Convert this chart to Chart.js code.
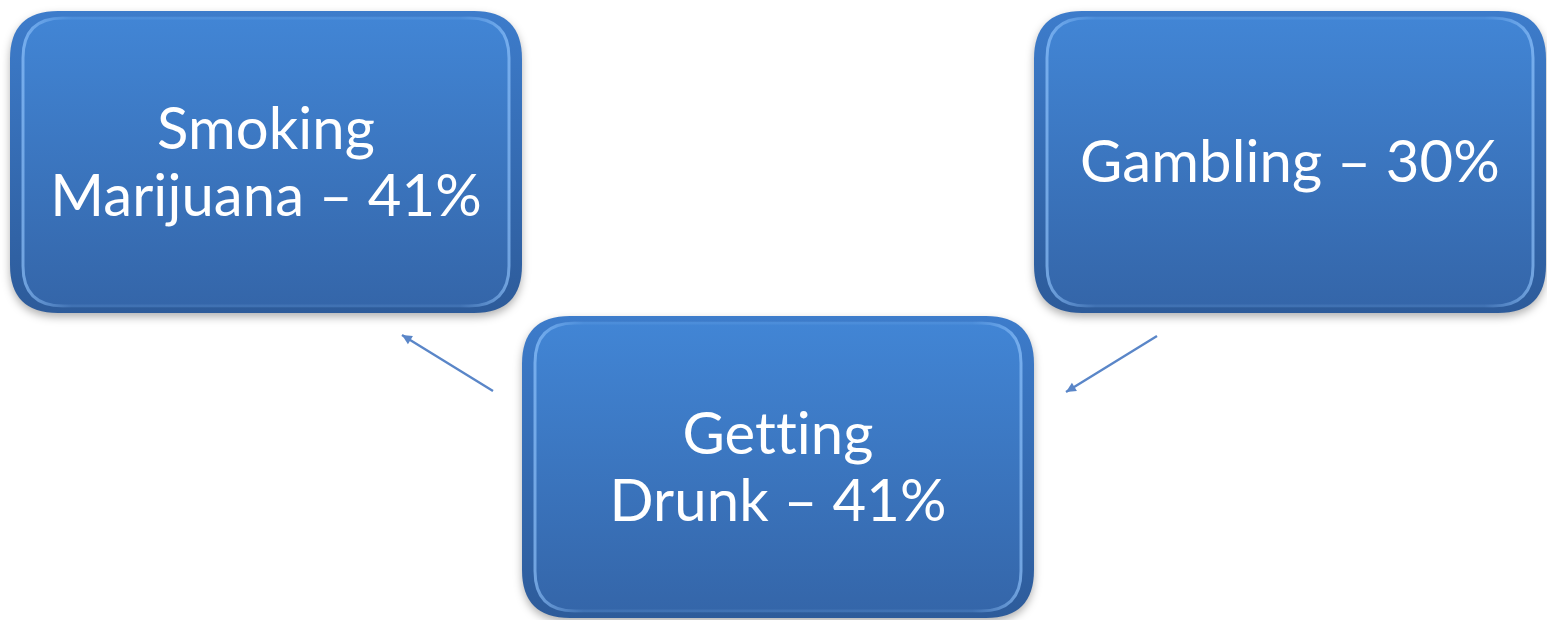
<!DOCTYPE html>
<html>
<head>
<meta charset="utf-8">
<script src="https://cdn.jsdelivr.net/npm/chart.js@4.4.1/dist/chart.umd.min.js"></script>
<style>
  html, body { margin: 0; padding: 0; background: #ffffff; }
  #wrap { width: 1547px; height: 620px; position: relative; }
</style>
</head>
<body>
<div id="wrap"><canvas id="diagram"></canvas></div>
<script>
// Data
const categories = ['Smoking Marijuana', 'Gambling', 'Getting Drunk'];
const percents = [41, 30, 41];
// label lines as they are broken in the picture
const labelLines = [
    ['Smoking', 'Marijuana \u2013 41%'],
    ['Gambling \u2013 30%'],
    ['Getting', 'Drunk \u2013 41%']
];

// Layout (in plot units, 1 unit = 1 px of the original)
const boxCenterX = [266, 1290, 778];
const boxCenterY = [162, 162, 467];
const boxHalfW = 256;
const boxHalfH = 151;
// arrows: from -> to
const arrowFrom = [{ x: 493, y: 391 }, { x: 1157, y: 336 }];
const arrowTo = [{ x: 402, y: 335 }, { x: 1066, y: 392 }];

function roundRect(ctx, x, y, w, h, r) {
    ctx.beginPath();
    ctx.moveTo(x + r, y);
    ctx.lineTo(x + w - r, y);
    ctx.quadraticCurveTo(x + w, y, x + w, y + r);
    ctx.lineTo(x + w, y + h - r);
    ctx.quadraticCurveTo(x + w, y + h, x + w - r, y + h);
    ctx.lineTo(x + r, y + h);
    ctx.quadraticCurveTo(x, y + h, x, y + h - r);
    ctx.lineTo(x, y + r);
    ctx.quadraticCurveTo(x, y, x + r, y);
    ctx.closePath();
}

// Draws the bevelled boxes and their labels around each data point
const boxPlugin = {
    id: 'boxes',
    afterDatasetsDraw(chart) {
        const ctx = chart.ctx;
        const xs = chart.scales.x, ys = chart.scales.y;
        const meta = chart.getDatasetMeta(0);
        meta.data.forEach((pt, i) => {
            const x0 = xs.getPixelForValue(boxCenterX[i] - boxHalfW);
            const x1 = xs.getPixelForValue(boxCenterX[i] + boxHalfW);
            const y0 = ys.getPixelForValue(boxCenterY[i] - boxHalfH);
            const y1 = ys.getPixelForValue(boxCenterY[i] + boxHalfH);
            const w = x1 - x0, h = y1 - y0;

            ctx.save();
            // shadow + outer rim
            ctx.shadowColor = 'rgba(0,0,0,0.3)';
            ctx.shadowBlur = 8;
            ctx.shadowOffsetY = 4;
            let g = ctx.createLinearGradient(0, y0, 0, y1);
            g.addColorStop(0, '#3d7ccb');
            g.addColorStop(1, '#2d5b9a');
            ctx.fillStyle = g;
            roundRect(ctx, x0, y0, w, h, 48);
            ctx.fill();
            ctx.restore();

            // inner face
            ctx.save();
            g = ctx.createLinearGradient(0, y0, 0, y1);
            g.addColorStop(0, '#4286d6');
            g.addColorStop(1, '#3465a8');
            ctx.fillStyle = g;
            roundRect(ctx, x0 + 12, y0 + 6, w - 24, h - 12, 40);
            ctx.fill();
            // light rim, brighter on the sides than top/bottom
            g = ctx.createLinearGradient(x0, 0, x1, 0);
            g.addColorStop(0, 'rgba(150,200,255,0.75)');
            g.addColorStop(0.12, 'rgba(150,200,255,0.12)');
            g.addColorStop(0.88, 'rgba(150,200,255,0.12)');
            g.addColorStop(1, 'rgba(150,200,255,0.75)');
            ctx.strokeStyle = g;
            ctx.lineWidth = 3;
            roundRect(ctx, x0 + 13, y0 + 7, w - 26, h - 14, 40);
            ctx.stroke();
            ctx.restore();

            // label
            ctx.save();
            ctx.fillStyle = '#ffffff';
            ctx.font = '58px Lato, "Open Sans", sans-serif';
            ctx.letterSpacing = '0.1px';
            ctx.textAlign = 'center';
            ctx.textBaseline = 'alphabetic';
            const lines = labelLines[i];
            const lh = 67;
            const base = pt.y + 20 - (lines.length - 1) * lh / 2;
            lines.forEach((t, k) => ctx.fillText(t, pt.x, base + k * lh));
            ctx.restore();
        });

        // arrows
        ctx.save();
        ctx.strokeStyle = '#5a86c8';
        ctx.fillStyle = '#5a86c8';
        ctx.lineWidth = 2.5;
        arrowFrom.forEach((a, i) => {
            const b = arrowTo[i];
            const ax = xs.getPixelForValue(a.x), ay = ys.getPixelForValue(a.y);
            const bx = xs.getPixelForValue(b.x), by = ys.getPixelForValue(b.y);
            ctx.beginPath();
            ctx.moveTo(ax, ay);
            ctx.lineTo(bx, by);
            ctx.stroke();
            const ang = Math.atan2(by - ay, bx - ax);
            ctx.beginPath();
            ctx.moveTo(bx, by);
            ctx.lineTo(bx - 11 * Math.cos(ang - 0.45), by - 11 * Math.sin(ang - 0.45));
            ctx.lineTo(bx - 11 * Math.cos(ang + 0.45), by - 11 * Math.sin(ang + 0.45));
            ctx.closePath();
            ctx.fill();
        });
        ctx.restore();
    }
};

const ctx = document.getElementById('diagram').getContext('2d');
new Chart(ctx, {
    type: 'scatter',
    data: {
        labels: categories,
        datasets: [{
            label: 'Share of respondents (%)',
            data: categories.map((c, i) => ({ x: boxCenterX[i], y: boxCenterY[i], v: percents[i] })),
            pointRadius: 0,
            pointHoverRadius: 0
        }]
    },
    options: {
        responsive: true,
        maintainAspectRatio: false,
        animation: false,
        layout: { padding: 0 },
        plugins: { legend: { display: false }, tooltip: { enabled: false } },
        scales: {
            x: { type: 'linear', min: 0, max: 1547, display: false },
            y: { type: 'linear', min: 0, max: 620, reverse: true, display: false }
        }
    },
    plugins: [boxPlugin]
});
</script>
</body>
</html>
